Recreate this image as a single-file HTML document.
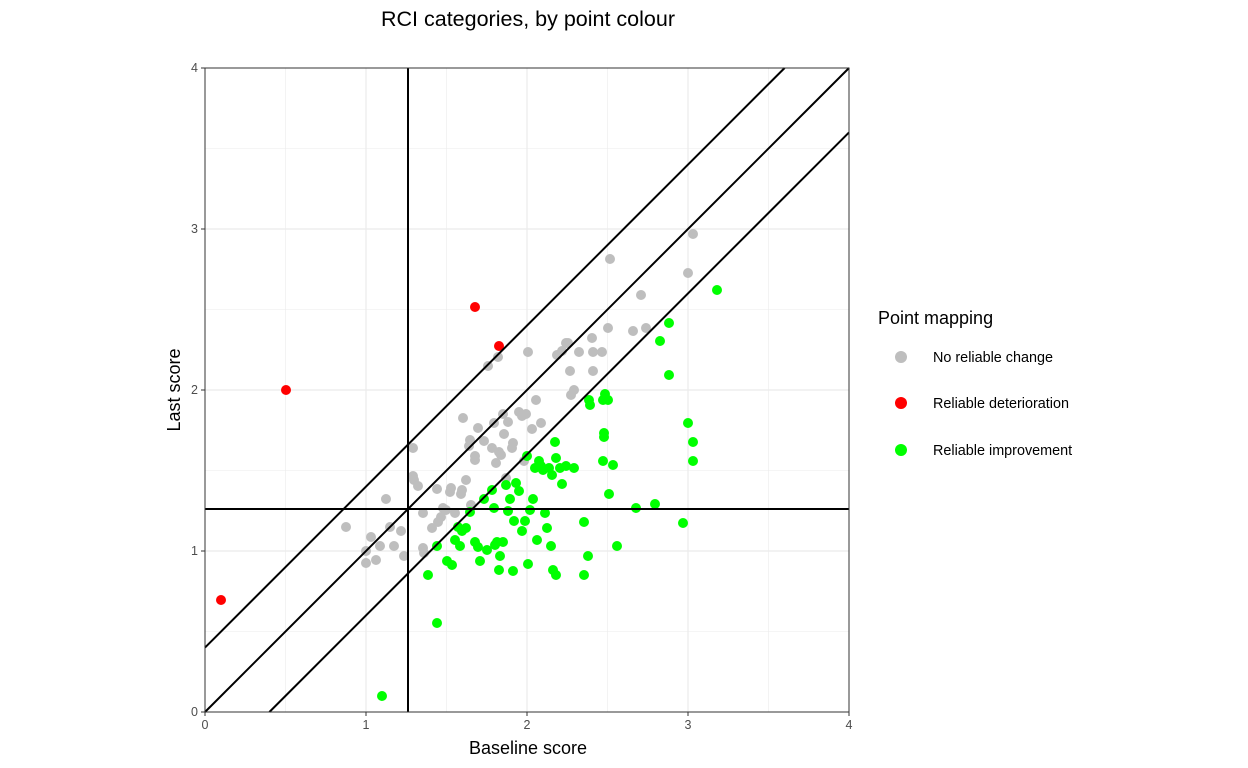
<!DOCTYPE html>
<html><head><meta charset="utf-8"><style>body{margin:0;background:#fff}svg{display:block;font-family:"Liberation Sans",sans-serif}</style></head>
<body>
<svg width="1248" height="768" viewBox="0 0 1248 768">
<rect width="1248" height="768" fill="#fff"/>
<text x="528" y="26" font-size="21.5" text-anchor="middle" fill="#000">RCI categories, by point colour</text>
<g stroke="#ebebeb" stroke-width="0.6">
<line x1="285.5" y1="68" x2="285.5" y2="712"/><line x1="446.5" y1="68" x2="446.5" y2="712"/><line x1="607.5" y1="68" x2="607.5" y2="712"/><line x1="768.5" y1="68" x2="768.5" y2="712"/>
<line x1="205" y1="631.5" x2="849" y2="631.5"/><line x1="205" y1="470.5" x2="849" y2="470.5"/><line x1="205" y1="309.5" x2="849" y2="309.5"/><line x1="205" y1="148.5" x2="849" y2="148.5"/>
</g>
<g stroke="#ebebeb" stroke-width="1.2">
<line x1="366" y1="68" x2="366" y2="712"/><line x1="527" y1="68" x2="527" y2="712"/><line x1="688" y1="68" x2="688" y2="712"/>
<line x1="205" y1="551" x2="849" y2="551"/><line x1="205" y1="390" x2="849" y2="390"/><line x1="205" y1="229" x2="849" y2="229"/>
</g>
<g id="pts"></g>
<g stroke="#000" stroke-width="2" fill="none">
<line x1="408" y1="68" x2="408" y2="712"/>
<line x1="205" y1="509" x2="849" y2="509"/>
<line x1="205" y1="712" x2="849" y2="68"/>
<line x1="205" y1="647.6" x2="784.6" y2="68"/>
<line x1="269.4" y1="712" x2="849" y2="132.4"/>
</g>
<rect x="205" y="68" width="644" height="644" fill="none" stroke="#333" stroke-width="1"/>
<g stroke="#333" stroke-width="1">
<line x1="205" y1="712" x2="205" y2="716"/><line x1="366" y1="712" x2="366" y2="716"/><line x1="527" y1="712" x2="527" y2="716"/><line x1="688" y1="712" x2="688" y2="716"/><line x1="849" y1="712" x2="849" y2="716"/>
<line x1="201" y1="712" x2="205" y2="712"/><line x1="201" y1="551" x2="205" y2="551"/><line x1="201" y1="390" x2="205" y2="390"/><line x1="201" y1="229" x2="205" y2="229"/><line x1="201" y1="68" x2="205" y2="68"/>
</g>
<g font-size="12.5" fill="#4d4d4d" text-anchor="middle">
<text x="205" y="729">0</text><text x="366" y="729">1</text><text x="527" y="729">2</text><text x="688" y="729">3</text><text x="849" y="729">4</text>
</g>
<g font-size="12.5" fill="#4d4d4d" text-anchor="end">
<text x="198" y="716">0</text><text x="198" y="555">1</text><text x="198" y="394">2</text><text x="198" y="233">3</text><text x="198" y="72">4</text>
</g>
<text x="528" y="754" font-size="18" text-anchor="middle">Baseline score</text>
<text transform="translate(180,390) rotate(-90)" font-size="18" text-anchor="middle">Last score</text>
<text x="878" y="324" font-size="18">Point mapping</text>
<circle cx="901" cy="357" r="6" fill="#bebebe"/><text x="933" y="362" font-size="14.4">No reliable change</text>
<circle cx="901" cy="403" r="6" fill="#ff0000"/><text x="933" y="408" font-size="14.4">Reliable deterioration</text>
<circle cx="901" cy="450" r="6" fill="#00ff00"/><text x="933" y="455" font-size="14.4">Reliable improvement</text>
</svg>
<script>
var g=[[346,527],[366,551],[366,563],[371,537],[376,560],[380,546],[386,499],[390,527],[394,546],[401,531],[404,556],[413,448],[413,476],[414,480],[418,486],[423,513],[423,548],[424,553],[432,528],[437,489],[438,522],[441,517],[443,508],[446,510],[450,492],[451,488],[455,513],[461,494],[462,490],[463,418],[466,480],[469,446],[470,440],[471,505],[475,460],[475,456],[478,428],[484,441],[488,366],[492,448],[494,423],[496,463],[498,357],[499,452],[501,455],[503,414],[504,434],[506,478],[508,422],[512,448],[513,443],[519,412],[522,416],[524,461],[526,414],[528,352],[532,429],[536,400],[541,423],[557,355],[562,351],[566,343],[568,343],[570,371],[571,395],[574,390],[579,352],[592,338],[593,352],[593,371],[602,352],[608,328],[610,259],[633,331],[641,295],[646,328],[688,273],[693,234]];
var r=[[221,600],[286,390],[475,307],[499,346]];
var gr=[[382,696],[437,623],[428,575],[437,546],[447,561],[452,565],[455,540],[458,527],[460,546],[462,531],[466,528],[470,512],[475,542],[478,547],[480,561],[484,499],[487,550],[492,490],[494,508],[495,545],[497,542],[499,570],[500,556],[503,542],[506,485],[508,511],[510,499],[513,571],[514,521],[516,483],[519,491],[522,531],[525,521],[527,456],[528,564],[530,510],[533,499],[535,468],[537,540],[539,461],[541,466],[543,470],[545,513],[547,528],[549,468],[551,546],[552,475],[553,570],[555,442],[556,458],[556,575],[560,468],[562,484],[566,466],[574,468],[584,522],[588,556],[584,575],[589,400],[590,405],[603,400],[604,433],[604,437],[603,461],[605,394],[608,400],[609,494],[613,465],[617,546],[636,508],[655,504],[660,341],[669,323],[669,375],[683,523],[688,423],[693,442],[693,461],[717,290]];
var s='';function add(a,c){a.forEach(function(p){s+='<circle cx="'+p[0]+'" cy="'+p[1]+'" r="5" fill="'+c+'"/>';});}
add(g,'#bebebe');add(r,'#ff0000');add(gr,'#00ff00');
document.getElementById('pts').innerHTML=s;
</script>
</body></html>
